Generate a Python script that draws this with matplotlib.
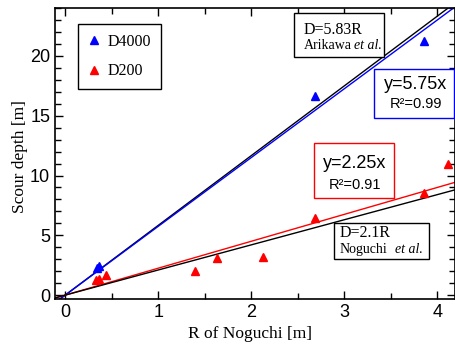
import numpy as np
import matplotlib
matplotlib.use("Agg")
import matplotlib.pyplot as plt
from matplotlib.patches import Rectangle
from matplotlib.ticker import MultipleLocator

# data
d4000_r = [0.34, 0.36, 2.69, 3.86]
d4000_d = [2.3, 2.45, 16.65, 21.25]
d200_r = [0.33, 0.36, 0.44, 1.40, 1.63, 2.13, 2.69, 3.86, 4.12]
d200_d = [1.25, 1.35, 1.67, 2.0, 3.1, 3.2, 6.45, 8.5, 10.95]

arikawa_slope = 5.83
fit4000_slope = 5.75
fit200_slope = 2.25
noguchi_slope = 2.1

serif = "Liberation Serif"
sans = "Liberation Sans"

fig = plt.figure(figsize=(4.56, 3.51), dpi=100)
ax = fig.add_axes([0.1206, 0.148, 0.877, 0.829])

xmin, xmax = -0.11, 4.19
ax.set_xlim(xmin, xmax)
ax.set_ylim(-0.33, 24.0)

xs = np.array([xmin, xmax])
ax.plot(xs, arikawa_slope * xs, color="black", lw=1.0, zorder=2)
ax.plot(xs, fit4000_slope * xs, color="blue", lw=1.0, zorder=2)
ax.plot(xs, fit200_slope * xs, color="red", lw=1.0, zorder=2)
ax.plot(xs, noguchi_slope * xs, color="black", lw=1.0, zorder=2)

ax.plot(d4000_r, d4000_d, linestyle="none", marker="^", color="blue", ms=6, label="D4000", zorder=3, clip_on=False)
ax.plot(d200_r, d200_d, linestyle="none", marker="^", color="red", ms=6, label="D200", zorder=3, clip_on=False)

ax.xaxis.set_major_locator(MultipleLocator(1))
ax.xaxis.set_minor_locator(MultipleLocator(0.5))
ax.yaxis.set_major_locator(MultipleLocator(5))
ax.yaxis.set_minor_locator(MultipleLocator(1))
ax.tick_params(which="both", direction="in", top=True, right=True, labelsize=13)
ax.tick_params(which="major", length=6, width=1)
ax.tick_params(which="minor", length=4, width=1)
for lab in ax.get_xticklabels() + ax.get_yticklabels():
    lab.set_fontfamily(sans)
for sp in ax.spines.values():
    sp.set_linewidth(1.2)

ax.set_xlabel("R of Noguchi [m]", fontfamily=serif, fontsize=12.5)
ax.xaxis.set_label_coords(0.487, -0.094)
ax.set_ylabel("Scour depth [m]", fontfamily=serif, fontsize=12.5)
ax.yaxis.set_label_coords(-0.068, 0.49)

leg = ax.legend(loc="upper left", bbox_to_anchor=(0.0575, 0.945), borderaxespad=0,
                prop={"family": serif, "size": 11.5},
                handlelength=0.8, handletextpad=0.45, labelspacing=0.85, borderpad=0.6,
                fancybox=False, edgecolor="black", framealpha=1)
leg.get_frame().set_linewidth(1.0)


def add_box(x0, y0, x1, y1, color):
    ax.add_patch(Rectangle((x0, y0), x1 - x0, y1 - y0, transform=ax.transAxes,
                           fc="white", ec=color, lw=1.0, zorder=4))


def put(x, y, s, family, size, ha="left", style="normal"):
    ax.text(x, y, s, transform=ax.transAxes, fontfamily=family, fontsize=size,
            fontstyle=style, va="center", ha=ha, zorder=5)


# Arikawa et al.
add_box(0.5975, 0.832, 0.8225, 0.983, "black")
put(0.6225, 0.925, "D=5.83R", serif, 11.5)
put(0.6225, 0.872, "Arikawa", serif, 10)
put(0.7475, 0.872, "et al.", serif, 10, style="italic")

# D4000 fit
add_box(0.7975, 0.622, 0.9975, 0.79, "blue")
put(0.9025, 0.739, "y=5.75x", sans, 13, ha="center")
put(0.9025, 0.67, "R\u00b2=0.99", sans, 10.5, ha="center")

# D200 fit
add_box(0.6475, 0.347, 0.8475, 0.536, "red")
put(0.75, 0.467, "y=2.25x", sans, 13, ha="center")
put(0.75, 0.393, "R\u00b2=0.91", sans, 10.5, ha="center")

# Noguchi et al.
add_box(0.6975, 0.137, 0.935, 0.261, "black")
put(0.7125, 0.227, "D=2.1R", serif, 11.5)
put(0.7125, 0.169, "Noguchi", serif, 10)
put(0.85, 0.169, "et al.", serif, 10, style="italic")

fig.savefig("out.png", dpi=100)
